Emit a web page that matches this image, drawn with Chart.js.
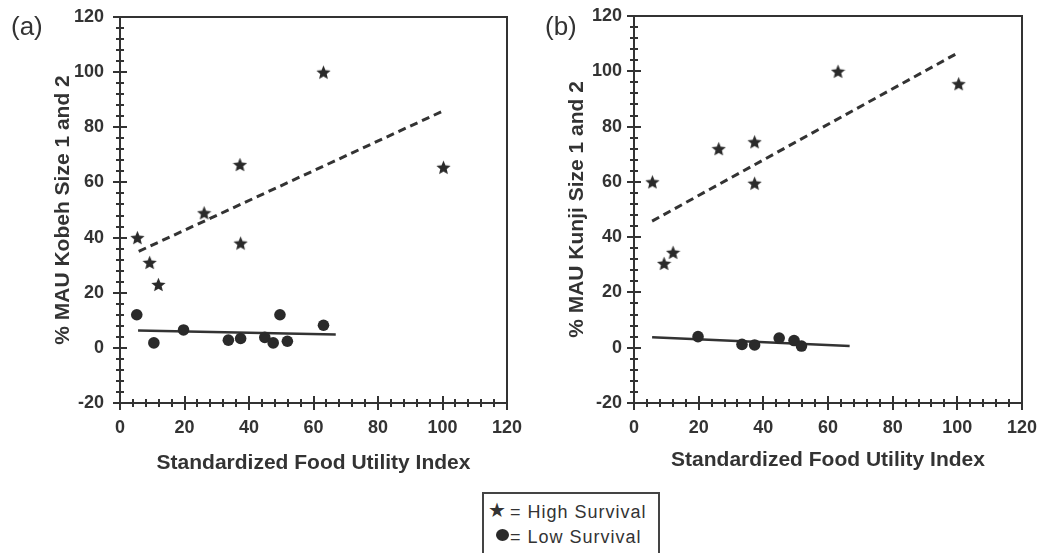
<!DOCTYPE html>
<html>
<head>
<meta charset="utf-8">
<script src="https://cdn.jsdelivr.net/npm/chart.js@4.4.1/dist/chart.umd.min.js"></script>
<style>
	body { margin: 0; background: #fff; width: 1040px; height: 553px; overflow: hidden; position: relative;
		font-family: "Liberation Sans", Arial, sans-serif; color: #333; }
	canvas { position: absolute; top: 0; }
	#graphA { left: 0; }
	#graphB { left: 520px; }
	.tag { position: absolute; top: 13px; font-size: 26px; line-height: 26px; color: #333; }
	#legend { position: absolute; left: 482px; top: 492px; width: 178px; height: 80px;
		border: 2px solid #444; box-sizing: border-box; }
	.row { position: absolute; left: 26px; font-size: 18px; letter-spacing: 1px; line-height: 20px; }
	.star { position: absolute; left: 4px; top: 6px; font-size: 20px; line-height: 20px; font-family: "DejaVu Sans"; }
	.dot { position: absolute; left: 12px; top: 35px; width: 13px; height: 12px; border-radius: 50%; background: #2a2a2a; }
</style>
</head>
<body>
<canvas id="graphA" width="540" height="480"></canvas>
<canvas id="graphB" width="520" height="480"></canvas>
<div class="tag" style="left:11px">(a)</div>
<div class="tag" style="left:545px">(b)</div>
<div id="legend">
	<span class="star">★</span><div class="row" style="top:8px">= High Survival</div>
	<span class="dot"></span><div class="row" style="top:33px">= Low Survival</div>
</div>
<script>
// axis ticks
var xTicks = [0, 20, 40, 60, 80, 100, 120];
var yTicks = [-20, 0, 20, 40, 60, 80, 100, 120];

// (a) Kobeh
var kobehHighX = [5.4, 9.2, 11.9, 26.1, 37.2, 37.4, 63.1, 100.3];
var kobehHighY = [40, 31, 23, 49, 66.5, 38, 100, 65.5];
var kobehLowX = [5.2, 10.5, 19.7, 33.6, 37.4, 44.9, 47.5, 49.6, 51.9, 63.1];
var kobehLowY = [12, 1.8, 6.5, 2.8, 3.4, 3.8, 1.8, 12, 2.4, 8.2];
var kobehHighFitX = [5.8, 100.9];
var kobehHighFitY = [35, 86.3];
var kobehLowFitX = [5.6, 66.9];
var kobehLowFitY = [6.3, 4.8];

// (b) Kunji
var kunjiHighX = [5.7, 9.3, 12.1, 26.2, 37.3, 37.3, 63.1, 100.4];
var kunjiHighY = [60, 30.5, 34.5, 72, 74.5, 59.5, 100, 95.5];
var kunjiLowX = [19.8, 33.4, 37.3, 44.9, 49.5, 51.8];
var kunjiLowY = [4, 1.2, 1, 3.5, 2.6, 0.6];
var kunjiHighFitX = [5.6, 100.7];
var kunjiHighFitY = [45.8, 107];
var kunjiLowFitX = [5.6, 66.7];
var kunjiLowFitY = [3.8, 0.6];

var minorStep = 4;
var ink = '#333';

Chart.defaults.font.family = "'Liberation Sans', Arial, sans-serif";
Chart.defaults.color = ink;

// filled five point star used as point style
function makeStar(size, color) {
	var c = document.createElement('canvas');
	c.width = size;
	c.height = size;
	var g = c.getContext('2d');
	var r = size / 2;
	g.beginPath();
	for (var i = 0; i < 10; i++) {
		var rad = (i % 2 == 0) ? r : r * 0.45;
		var a = -Math.PI / 2 + i * Math.PI / 5;
		g.lineTo(r + rad * Math.cos(a), r + 0.8 + rad * Math.sin(a));
	}
	g.closePath();
	g.fillStyle = color;
	g.fill();
	return c;
}

function toPoints(xs, ys) {
	var pts = [];
	for (var i = 0; i < xs.length; i++) pts.push({x: xs[i], y: ys[i]});
	return pts;
}

// top/right frame and ticks crossing the axes
var axisMarks = {
	id: 'axisMarks',
	afterDraw: function(chart) {
		var ctx = chart.ctx;
		var area = chart.chartArea;
		var xs = chart.scales.x;
		var ys = chart.scales.y;
		ctx.save();
		ctx.strokeStyle = ink;
		ctx.lineWidth = 2;
		ctx.beginPath();
		ctx.moveTo(area.left, area.top);
		ctx.lineTo(area.right, area.top);
		ctx.lineTo(area.right, area.bottom);
		ctx.stroke();

		ctx.beginPath();
		for (var v = xs.min; v <= xs.max; v += minorStep) {
			var len = (v % 20 == 0) ? 7 : 4;
			var px = Math.round(xs.getPixelForValue(v));
			ctx.moveTo(px, area.bottom - len);
			ctx.lineTo(px, area.bottom + len);
		}
		for (var w = ys.min; w <= ys.max; w += minorStep) {
			var len2 = (w % 20 == 0) ? 7 : 4;
			var py = Math.round(ys.getPixelForValue(w));
			ctx.moveTo(area.left - len2, py);
			ctx.lineTo(area.left + len2, py);
		}
		ctx.stroke();
		ctx.restore();
	}
};

function drawGraph(graphID, d) {
	var ctx = document.getElementById(graphID).getContext('2d');
	var star = makeStar(15, '#2a2a2a');

	new Chart(ctx, {
		type: 'scatter',
		data: {
			datasets: [{
				label: 'High Survival',
				data: toPoints(d.highX, d.highY),
				pointStyle: star,
				pointRadius: 7
			}, {
				label: 'Low Survival',
				data: toPoints(d.lowX, d.lowY),
				pointStyle: 'circle',
				pointRadius: 5.8,
				backgroundColor: '#2a2a2a',
				borderWidth: 0
			}, {
				label: 'High fit',
				data: toPoints(d.hFitX, d.hFitY),
				showLine: true,
				pointRadius: 0,
				borderColor: ink,
				borderWidth: 3,
				borderDash: [8, 5]
			}, {
				label: 'Low fit',
				data: toPoints(d.lFitX, d.lFitY),
				showLine: true,
				pointRadius: 0,
				borderColor: ink,
				borderWidth: 2.5
			}]
		},
		options: {
			responsive: false,
			animation: false,
			devicePixelRatio: 1,
			layout: { padding: d.pad },
			plugins: { legend: { display: false }, tooltip: { enabled: false } },
			scales: {
				x: {
					type: 'linear',
					min: xTicks[0],
					max: xTicks[xTicks.length - 1],
					afterBuildTicks: function(s) { s.ticks = xTicks.map(function(v) { return {value: v}; }); },
					afterFit: function(s) { s.height = 77; },
					// tickLength only spaces the labels, marks come from axisMarks
					grid: { display: false, drawTicks: true, tickLength: 14 },
					border: { display: true, color: ink, width: 2 },
					ticks: { padding: 0, maxRotation: 0, color: ink, font: { size: 18, weight: 'bold' } },
					title: {
						display: true,
						text: 'Standardized Food Utility Index',
						color: ink,
						font: { size: 21, weight: 'bold' },
						padding: { top: 0, bottom: d.xTitlePad }
					}
				},
				y: {
					type: 'linear',
					min: yTicks[0],
					max: yTicks[yTicks.length - 1],
					afterBuildTicks: function(s) { s.ticks = yTicks.map(function(v) { return {value: v}; }); },
					afterFit: function(s) { s.width = d.yWidth; },
					grid: { display: false, drawTicks: true, tickLength: d.yTickPad },
					border: { display: true, color: ink, width: 2 },
					ticks: { padding: 0, color: ink, font: { size: 18, weight: 'bold' } },
					title: {
						display: true,
						text: d.yTitle,
						color: ink,
						font: { size: 21, weight: 'bold' },
						padding: { top: d.yTitlePad, bottom: 0 }
					}
				}
			}
		},
		plugins: [axisMarks]
	});
}

drawGraph('graphA', {
	highX: kobehHighX, highY: kobehHighY, lowX: kobehLowX, lowY: kobehLowY,
	hFitX: kobehHighFitX, hFitY: kobehHighFitY, lFitX: kobehLowFitX, lFitY: kobehLowFitY,
	yTitle: '% MAU Kobeh Size 1 and 2',
	pad: { left: 0, top: 17, right: 33, bottom: 0 },
	yWidth: 120, yTickPad: 16, yTitlePad: 51, xTitlePad: 4
});

drawGraph('graphB', {
	highX: kunjiHighX, highY: kunjiHighY, lowX: kunjiLowX, lowY: kunjiLowY,
	hFitX: kunjiHighFitX, hFitY: kunjiHighFitY, lFitX: kunjiLowFitX, lFitY: kunjiLowFitY,
	yTitle: '% MAU Kunji Size 1 and 2',
	pad: { left: 0, top: 16, right: 18, bottom: 0 },
	yWidth: 114, yTickPad: 12, yTitlePad: 45, xTitlePad: 7
});
</script>
</body>
</html>
